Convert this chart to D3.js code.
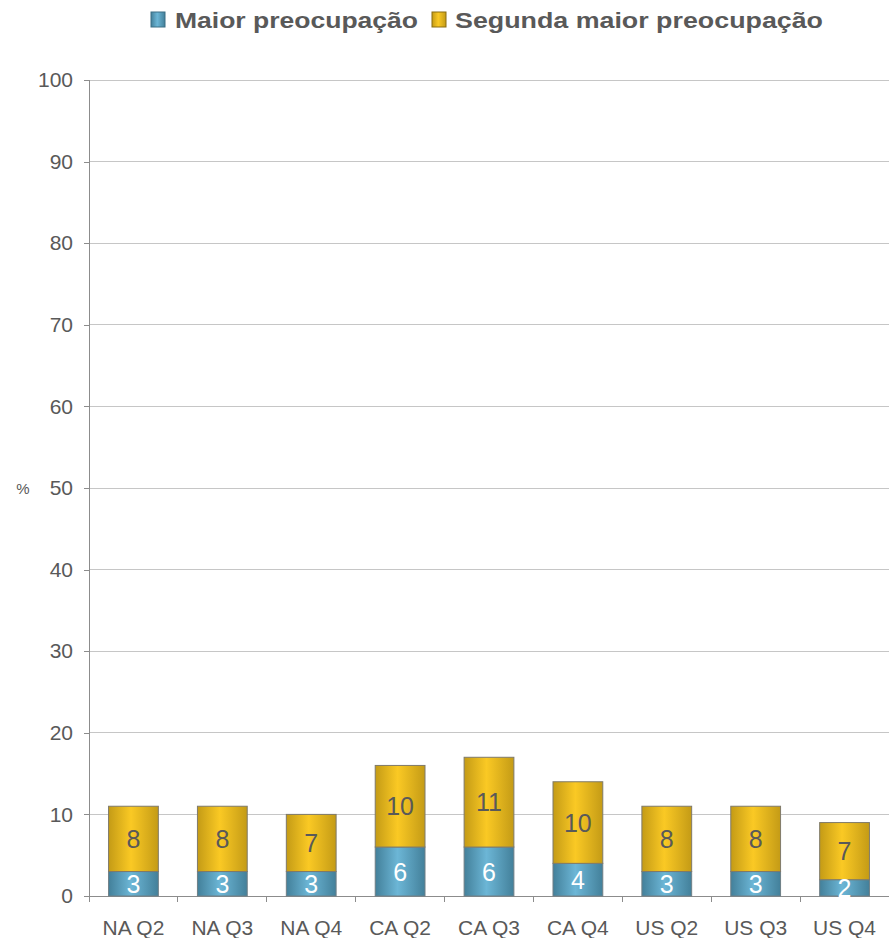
<!DOCTYPE html>
<html><head><meta charset="utf-8">
<script src="https://cdn.jsdelivr.net/npm/d3@7"></script>
<style>body{margin:0;background:#fff}svg{display:block;font-family:Arial,"Liberation Sans",sans-serif}</style>
</head><body>
<svg id="c" width="889" height="938"></svg>
<script>
const categories = ["NA Q2","NA Q3","NA Q4","CA Q2","CA Q3","CA Q4","US Q2","US Q3","US Q4"];
const maior = [3,3,3,6,6,4,3,3,2];
const segunda = [8,8,7,10,11,10,8,8,7];
const seriesNames = ["Maior preocupação","Segunda maior preocupação"];
const yTicks = [0,10,20,30,40,50,60,70,80,90,100];

const svg = d3.select("#c");
const m = {left:89, right:889, top:80, bottom:896};
const x = d3.scaleBand().domain(categories).range([m.left, m.right]).paddingInner(0.44).paddingOuter(0.22);
const y = d3.scaleLinear().domain([0,100]).range([m.bottom, m.top]);

const defs = svg.append("defs");
function grad(id, edge, mid){
  const g = defs.append("linearGradient").attr("id", id).attr("x1","0").attr("x2","1").attr("y1","0").attr("y2","0");
  g.append("stop").attr("offset","0%").attr("stop-color",edge);
  g.append("stop").attr("offset","45%").attr("stop-color",mid);
  g.append("stop").attr("offset","100%").attr("stop-color",edge);
}
grad("gb","#43809a","#6cb6d6");
grad("gy","#c49b16","#fac924");

// gridlines
svg.append("g").selectAll("line").data(yTicks.filter(d=>d>0)).join("line")
  .attr("x1", m.left).attr("x2", m.right).attr("y1", d=>y(d)).attr("y2", d=>y(d))
  .attr("stroke","#c6c6c6").attr("stroke-width",1).attr("shape-rendering","crispEdges");

// y axis
const ya = svg.append("g").attr("transform",`translate(${m.left},0)`)
  .call(d3.axisLeft(y).tickValues(yTicks).tickSize(5).tickPadding(11));
ya.select(".domain").attr("stroke","#8c8c8c").attr("shape-rendering","crispEdges");
ya.selectAll(".tick line").attr("stroke","#8c8c8c").attr("shape-rendering","crispEdges");
ya.selectAll(".tick text").attr("font-size",21).attr("fill","#595959").attr("font-family","Arial, 'Liberation Sans', sans-serif");

svg.append("text").attr("x",23).attr("y",y(50)+6).attr("text-anchor","middle")
  .attr("font-size",15).attr("fill","#595959").text("%");

// x axis
const boundaries = d3.range(categories.length+1).map(i => m.left + (m.right-m.left)*i/categories.length);
svg.append("line").attr("x1",m.left).attr("x2",m.right).attr("y1",y(0)).attr("y2",y(0))
  .attr("stroke","#8c8c8c").attr("shape-rendering","crispEdges");
svg.append("g").selectAll("line").data(boundaries).join("line")
  .attr("x1",d=>d).attr("x2",d=>d).attr("y1",y(0)).attr("y2",y(0)+6)
  .attr("stroke","#8c8c8c").attr("shape-rendering","crispEdges");
svg.append("g").selectAll("text").data(categories).join("text")
  .attr("x",d=>x(d)+x.bandwidth()/2).attr("y",935).attr("text-anchor","middle")
  .attr("font-size",21).attr("fill","#595959").text(d=>d);

// bars
const data = categories.map((c,i)=>({c, a:maior[i], b:segunda[i]}));
const bars = svg.append("g");
bars.selectAll("rect.a").data(data).join("rect").attr("class","a")
  .attr("x",d=>x(d.c)).attr("width",x.bandwidth())
  .attr("y",d=>y(d.a)).attr("height",d=>y(0)-y(d.a))
  .attr("fill","url(#gb)").attr("stroke","#6f7f86").attr("stroke-width",1);
bars.selectAll("rect.b").data(data).join("rect").attr("class","b")
  .attr("x",d=>x(d.c)).attr("width",x.bandwidth())
  .attr("y",d=>y(d.a+d.b)).attr("height",d=>y(d.a)-y(d.a+d.b))
  .attr("fill","url(#gy)").attr("stroke","#7f7a6a").attr("stroke-width",1);

// labels
svg.append("g").selectAll("text").data(data).join("text")
  .attr("x",d=>x(d.c)+x.bandwidth()/2).attr("y",d=>y(d.a/2)+9)
  .attr("text-anchor","middle").attr("font-size",25).attr("fill","#ffffff").text(d=>d.a);
svg.append("g").selectAll("text").data(data).join("text")
  .attr("x",d=>x(d.c)+x.bandwidth()/2).attr("y",d=>y(d.a+d.b/2)+9)
  .attr("text-anchor","middle").attr("font-size",25).attr("fill","#595959").text(d=>d.b);

// legend
const lg = svg.append("g").attr("font-weight","bold").attr("font-size",22).attr("fill","#595959");
const sw = [{x:151, g:"url(#gb)", s:"#3b6f85", t:seriesNames[0], tx:175, w:243},
            {x:432, g:"url(#gy)", s:"#8a6d10", t:seriesNames[1], tx:455, w:368}];
sw.forEach(o=>{
  lg.append("rect").attr("x",o.x).attr("y",12).attr("width",14).attr("height",15)
    .attr("fill",o.g).attr("stroke",o.s).attr("stroke-width",1);
  lg.append("text").attr("x",o.tx).attr("y",28).attr("textLength",o.w)
    .attr("lengthAdjust","spacingAndGlyphs").text(o.t);
});
</script>
</body></html>
